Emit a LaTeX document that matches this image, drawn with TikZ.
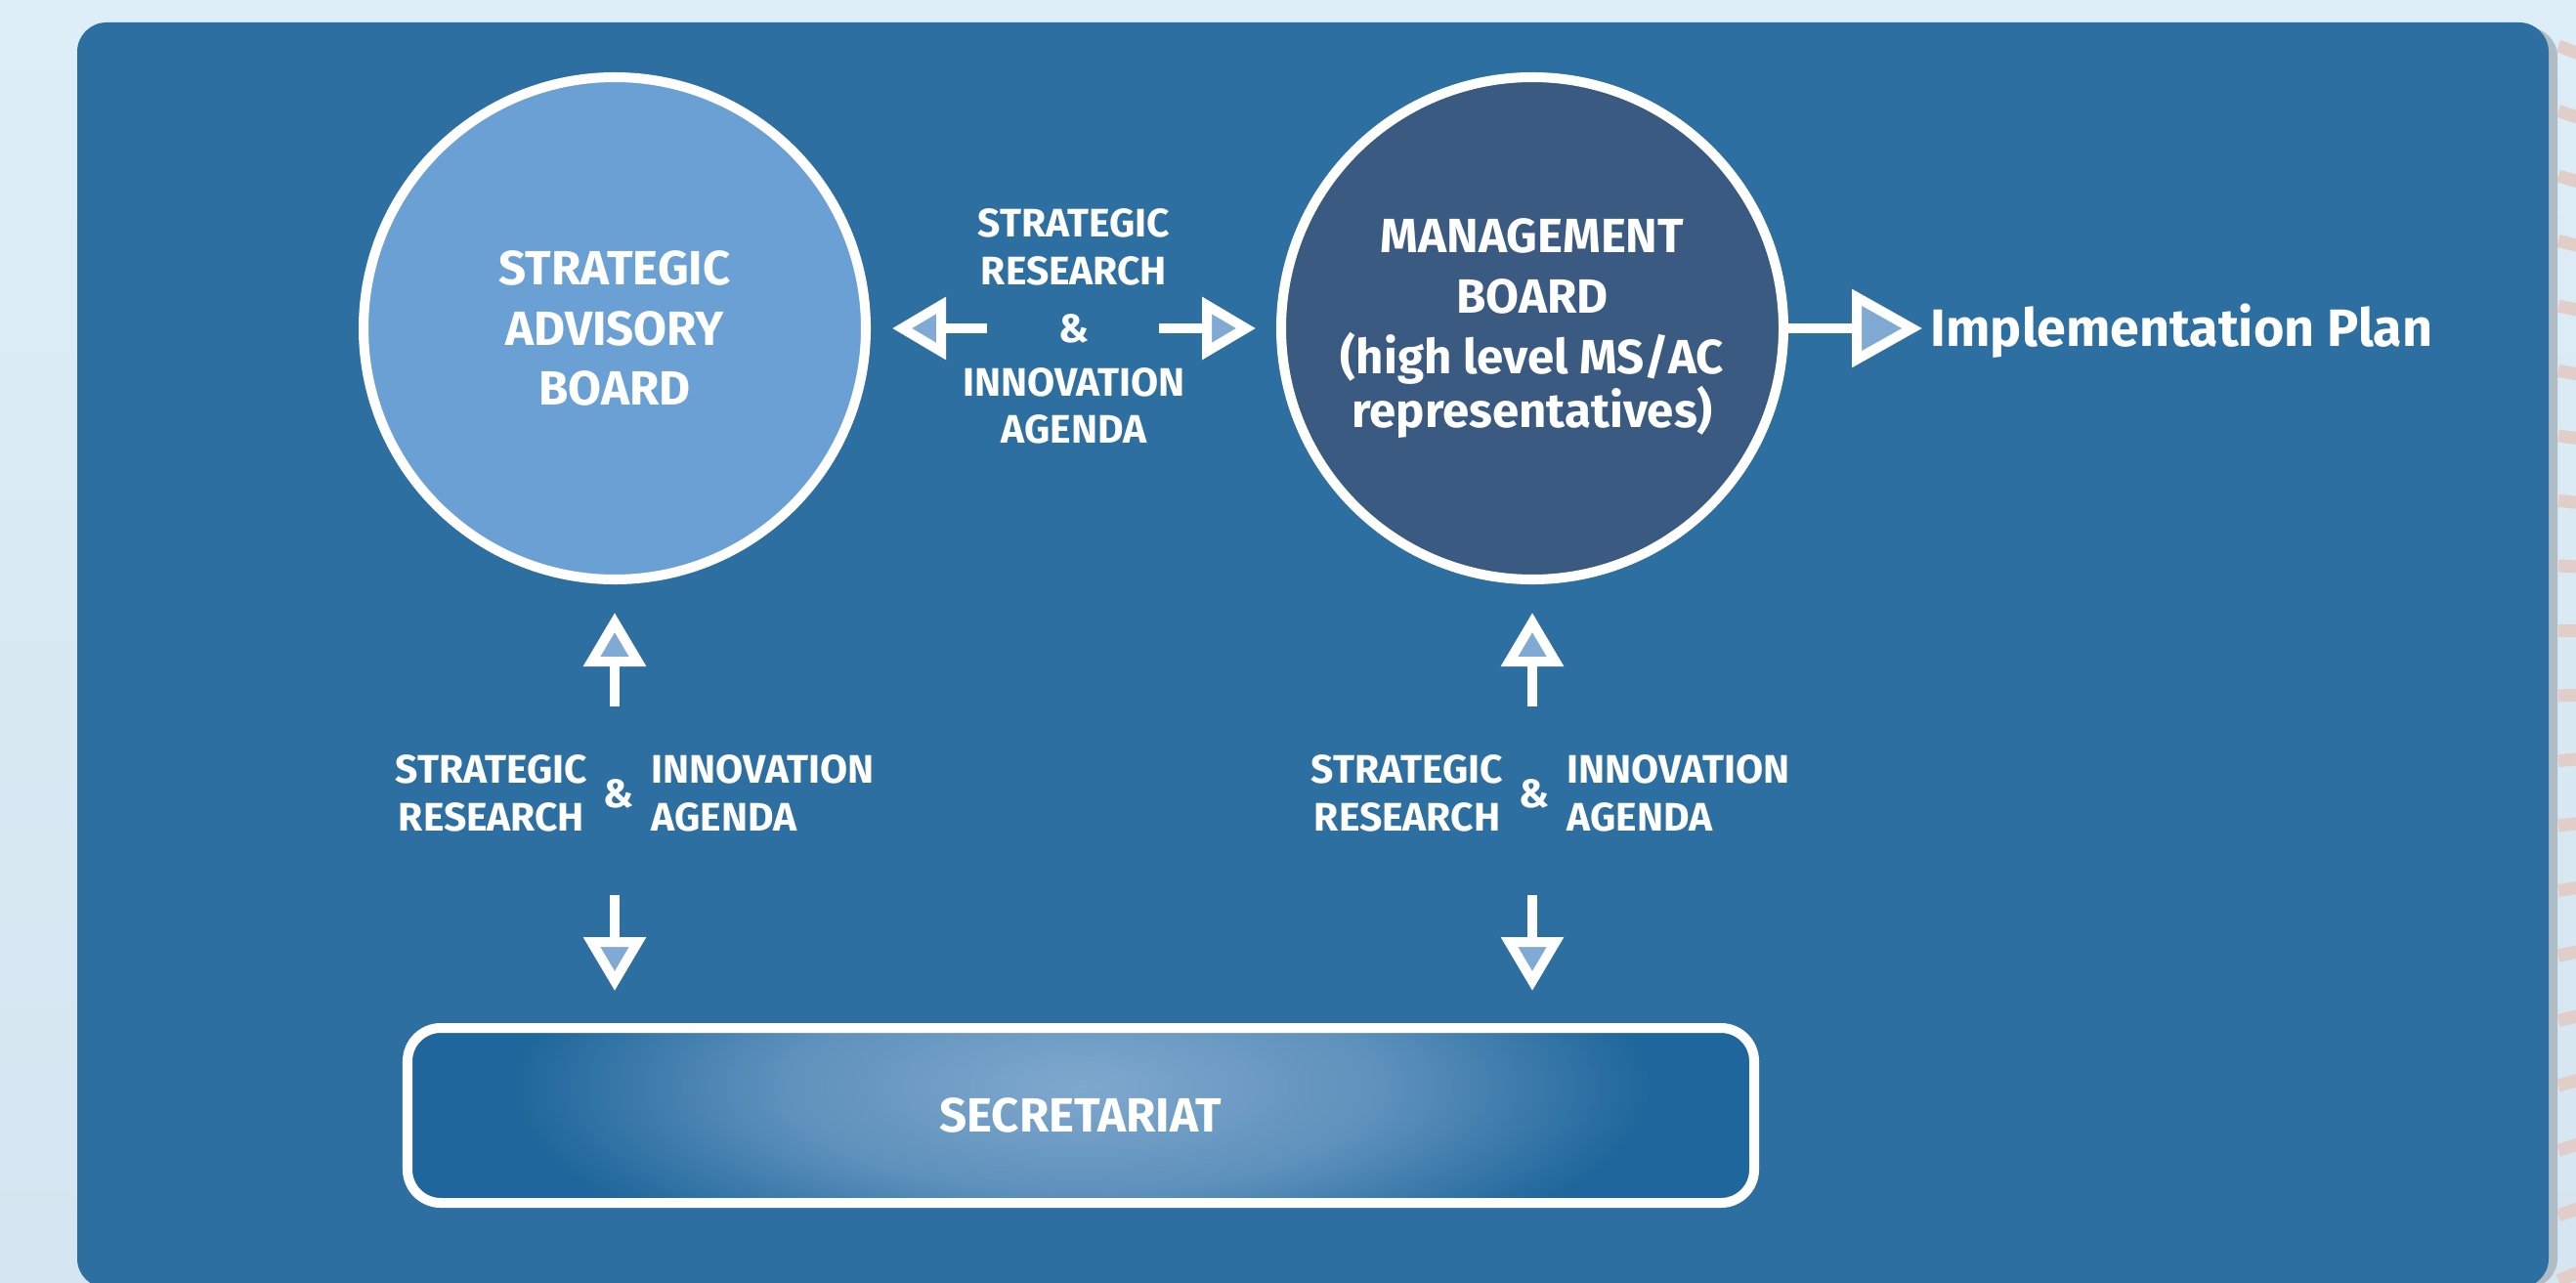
\documentclass[tikz,border=0pt]{standalone}
\usepackage{fontspec}
\setmainfont{Fira Sans}
\usepackage{tikz}
\usetikzlibrary{arrows.meta,shapes,positioning,shadows,fit,calc}

\definecolor{bgtop}{RGB}{221,238,248}
\definecolor{bgbot}{RGB}{213,229,241}
\definecolor{panel}{RGB}{45,111,160}
\definecolor{panelshadow}{RGB}{176,189,197}
\definecolor{stripe}{RGB}{226,206,201}
\definecolor{sabfill}{RGB}{107,160,213}
\definecolor{mbfill}{RGB}{58,90,129}
\definecolor{seclight}{RGB}{128,168,206}
\definecolor{secdark}{RGB}{30,102,155}
\definecolor{tipblue}{RGB}{128,170,212}
\pgfdeclareradialshading{secglow}{\pgfpointorigin}{color(0bp)=(seclight); color(9bp)=(seclight!65!secdark); color(17bp)=(secdark); color(50bp)=(secdark)}

\begin{document}
\begin{tikzpicture}[
	board/.style={circle, draw=white, line width=2.85pt, minimum size=5.14cm, text=white, align=center, font=\fontsize{14}{17.6}\selectfont\bfseries},
	agenda/.style={text=white, inner sep=0pt, font=\fontsize{11.6}{13.9}\selectfont\bfseries},
	secbox/.style={rectangle, rounded corners=0.34cm, draw=white, line width=2.85pt, minimum width=13.78cm, minimum height=1.79cm, fill=secdark, text=white, font=\fontsize{14}{17}\selectfont\bfseries,
		path picture={\shade[shading=secglow] ([yshift=0.3cm]path picture bounding box.center) ellipse (8.6cm and 3cm);}},
	flow/.style={draw=white, line width=2.85pt, -{Triangle[length=0.55cm, width=0.62cm, fill=tipblue]}},
	bigflow/.style={draw=white, line width=2.85pt, -{Triangle[length=0.72cm, width=0.78cm, fill=tipblue]}}
	]
	\useasboundingbox (0,0) rectangle (26.36,13.12);
	
	% Background and panel
	\shade[top color=bgtop, bottom color=bgbot] (0,0) rectangle (26.36,13.12);
	\foreach \k in {0,...,19}
		\draw[stripe, line width=0.13cm] (26.18,12.65-0.665*\k) -- ++(0.3,{-0.3*(6.09-0.665*\k)/16});
	\fill[panelshadow, rounded corners=0.3cm] (0.88,-0.06) rectangle (26.17,12.84);
	\fill[panel, rounded corners=0.3cm] (0.79,-0.06) rectangle (26.08,12.89);
	
	% Boards
	\node[board, fill=sabfill] (sab) at (6.29,9.76) {STRATEGIC\\ADVISORY\\BOARD};
	\node[board, fill=mbfill] (mb) at (15.68,9.76) {MANAGEMENT\\BOARD\\(high level MS/AC\\[-2pt]representatives)};
	
	% Agenda between the boards
	\node[agenda, align=center] (mid) at (10.99,9.78) {STRATEGIC\\RESEARCH\\[3pt]\&\\[1.6pt]INNOVATION\\AGENDA};
	\draw[flow] ($(sab.east -| mid)+(-0.89,0)$) -- ($(sab.east)+(0.22,0)$);
	\draw[flow] ($(mb.west -| mid)+(0.87,0)$) -- ($(mb.west)+(-0.21,0)$);
	
	% Implementation Plan
	\node[agenda, anchor=west, font=\fontsize{15.3}{18}\selectfont\bfseries] (impl) at (19.75,9.73) {Implementation Plan};
	\draw[bigflow] (mb.east) -- ($(mb.east -| impl.west)+(-0.08,0)$);
	
	% Secretariat
	\node[secbox] (sec) at (11.06,1.705) {SECRETARIAT};
	
	% Agenda under the strategic advisory board
	\node[agenda] (amp1) at (6.33,5.00) {\&};
	\node[agenda, align=center, left=0.15cm of amp1] (sr1) {STRATEGIC\\RESEARCH};
	\node[agenda, align=left, right=0.17cm of amp1] (ia1) {INNOVATION\\AGENDA};
	\draw[flow] ($(sab.south |- amp1)+(0,0.89)$) -- ($(sab.south)+(0,-0.29)$);
	\draw[flow] ($(sab.south |- amp1)+(0,-1.04)$) -- ($(sab.south |- sec.north)+(0,0.33)$);
	
	% Agenda under the management board
	\node[agenda] (amp2) at (15.70,5.00) {\&};
	\node[agenda, align=center, left=0.15cm of amp2] (sr2) {STRATEGIC\\RESEARCH};
	\node[agenda, align=left, right=0.17cm of amp2] (ia2) {INNOVATION\\AGENDA};
	\draw[flow] ($(mb.south |- amp2)+(0,0.89)$) -- ($(mb.south)+(0,-0.29)$);
	\draw[flow] ($(mb.south |- amp2)+(0,-1.04)$) -- ($(mb.south |- sec.north)+(0,0.33)$);
\end{tikzpicture}
\end{document}
